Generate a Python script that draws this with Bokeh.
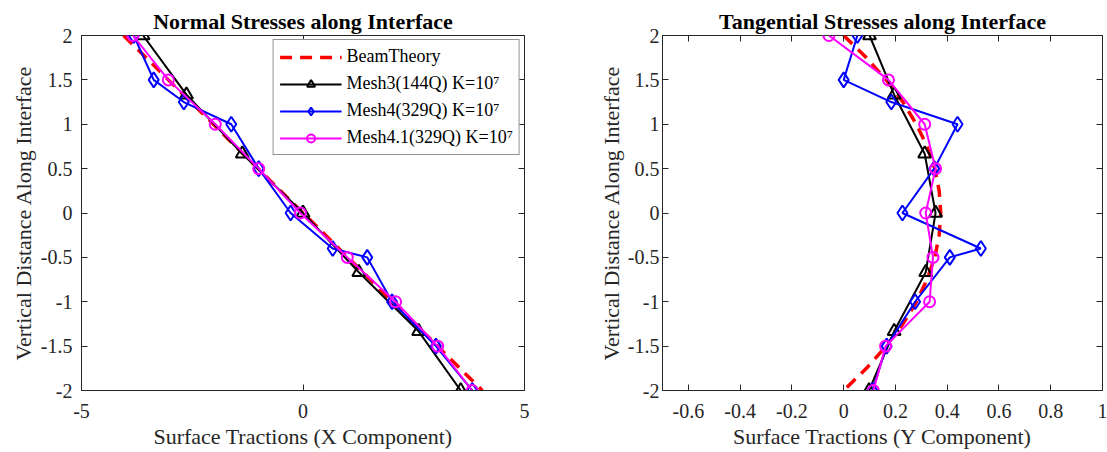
from bokeh.plotting import figure
from bokeh.models import Range1d, LinearAxis, FixedTicker, CustomJSTickFormatter
from bokeh.layouts import row
from bokeh.embed import file_html
from bokeh.resources import INLINE

# ---------------- data ----------------
beam_y = [2.0, 1.75, 1.5, 1.25, 1.0, 0.75, 0.5, 0.25, 0.0, -0.25, -0.5, -0.75,
          -1.0, -1.25, -1.5, -1.75, -2.0]
beam_normal = [-4.05, -3.54, -3.04, -2.53, -2.02, -1.52, -1.01, -0.51, 0.0, 0.51,
               1.01, 1.52, 2.02, 2.53, 3.04, 3.54, 4.05]
beam_tangential = [0.0, 0.088, 0.164, 0.229, 0.281, 0.322, 0.352, 0.369, 0.375,
                   0.369, 0.352, 0.322, 0.281, 0.229, 0.164, 0.088, 0.0]

mesh3_y = [2.0, 1.333, 0.667, 0.0, -0.667, -1.333, -2.0]
mesh3_normal = [-3.61, -2.63, -1.37, 0.0, 1.26, 2.61, 3.56]
mesh3_tangential = [0.100, 0.195, 0.313, 0.355, 0.317, 0.195, 0.098]

mesh4_y = [2.0, 1.5, 1.25, 1.0, 0.5, 0.0, -0.4, -0.5, -1.0, -1.5, -2.0]
mesh4_normal = [-3.82, -3.37, -2.69, -1.62, -1.0, -0.28, 0.67, 1.45, 2.01, 3.0, 3.82]
mesh4_tangential = [0.053, 0.0, 0.184, 0.44, 0.35, 0.227, 0.53, 0.41, 0.276, 0.166, 0.111]

mesh41_y = [2.0, 1.5, 1.0, 0.5, 0.0, -0.5, -1.0, -1.5, -2.0]
mesh41_normal = [-3.84, -3.04, -1.98, -1.0, -0.06, 1.0, 2.09, 3.04, 3.82]
mesh41_tangential = [-0.057, 0.173, 0.313, 0.355, 0.317, 0.345, 0.332, 0.162, 0.115]

normal_xticks = [-5, 0, 5]
tangential_xticks = [-0.6, -0.4, -0.2, 0, 0.2, 0.4, 0.6, 0.8, 1]
yticks = [-2, -1.5, -1, -0.5, 0, 0.5, 1, 1.5, 2]

labels = ["BeamTheory", "Mesh3(144Q) K=10\u2077", "Mesh4(329Q) K=10\u2077",
          "Mesh4.1(329Q) K=10\u2077"]

# ---------------- style ----------------
FONT = "Liberation Serif"
AX = "#262626"


def make_fig(title, xlabel, xr, xticks, width, mbl, mbr, ystand, ylabstand):
    p = figure(width=width, height=452, x_range=Range1d(*xr), y_range=Range1d(-2, 2),
               output_backend="svg", toolbar_location=None,
               min_border_left=mbl, min_border_right=mbr,
               min_border_top=35, min_border_bottom=62)
    p.title.text = title
    p.title.text_font = FONT
    p.title.text_font_size = "22px"
    p.title.text_font_style = "bold"
    p.title.text_color = "black"
    p.title.align = "center"
    p.title.standoff = 4
    p.grid.visible = False
    p.outline_line_color = AX
    p.outline_line_width = 1
    p.background_fill_color = "white"
    p.border_fill_color = "white"

    fmt = CustomJSTickFormatter(code="return tick.toString();")
    blank = CustomJSTickFormatter(code="return '';")

    for ax, ticks in ((p.xaxis[0], xticks), (p.yaxis[0], yticks)):
        ax.ticker = FixedTicker(ticks=ticks)
        ax.formatter = fmt
        ax.major_label_text_font = FONT
        ax.major_label_text_font_size = "20px"
        ax.major_label_text_color = AX
        ax.axis_label_text_font = FONT
        ax.axis_label_text_font_size = "22px"
        ax.axis_label_text_font_style = "normal"
        ax.axis_label_text_color = AX
        ax.axis_line_color = AX
        ax.major_tick_line_color = AX
        ax.major_tick_in = 6
        ax.major_tick_out = 0
        ax.minor_tick_line_color = None
    p.xaxis[0].axis_label = xlabel
    p.xaxis[0].major_label_standoff = 13
    p.xaxis[0].axis_label_standoff = 3
    p.yaxis[0].axis_label = "Vertical Distance Along Interface"
    p.yaxis[0].major_label_standoff = ystand
    p.yaxis[0].axis_label_standoff = ylabstand

    for loc, ticks in (("above", xticks), ("right", yticks)):
        a = LinearAxis(ticker=FixedTicker(ticks=ticks), formatter=blank,
                       major_label_text_font_size="0px", major_label_standoff=0,
                       axis_line_color=None, major_tick_line_color=AX,
                       major_tick_in=6, major_tick_out=0, minor_tick_line_color=None)
        p.add_layout(a, loc)
    return p


def draw(p, bx, m3, m4, m41, legend):
    kw = (lambda i: dict(legend_label=labels[i])) if legend else (lambda i: {})
    p.line(bx, beam_y, line_color="#ff0000", line_width=3.5, line_dash="12 8", **kw(0))
    p.line(m3, mesh3_y, line_color="black", line_width=2, **kw(1))
    p.scatter(m3, mesh3_y, marker="triangle", size=13, line_color="black",
              line_width=2, fill_alpha=0, **kw(1))
    p.line(m4, mesh4_y, line_color="#0000ff", line_width=2, **kw(2))
    p.scatter(m4, mesh4_y, marker="diamond", size=15, line_color="#0000ff",
              line_width=2, fill_alpha=0, **kw(2))
    p.line(m41, mesh41_y, line_color="#ff00ff", line_width=2, **kw(3))
    p.scatter(m41, mesh41_y, marker="circle", size=11, line_color="#ff00ff",
              line_width=2, fill_alpha=0, **kw(3))


p1 = make_fig("Normal Stresses along Interface", "Surface Tractions (X Component)",
              (-5, 5), normal_xticks, 560, 81, 36, 9, 2)
draw(p1, beam_normal, mesh3_normal, mesh4_normal, mesh41_normal, True)
lg = p1.legend[0]
lg.location = "top_right"
lg.margin = 4
lg.padding = 6
lg.spacing = 6
lg.border_line_color = AX
lg.border_line_width = 1
lg.background_fill_color = "white"
lg.background_fill_alpha = 1
lg.label_text_font = FONT
lg.label_text_font_size = "18px"
lg.label_text_color = "black"
lg.glyph_width = 62
lg.glyph_height = 20
lg.label_height = 20
lg.label_standoff = 5

p2 = make_fig("Tangential Stresses along Interface", "Surface Tractions (Y Component)",
              (-0.7, 1.0), tangential_xticks, 547, 102, 5, 3, 1)
draw(p2, beam_tangential, mesh3_tangential, mesh4_tangential, mesh41_tangential, False)

layout = row(p1, p2)
open("out.html", "w").write(file_html(layout, INLINE))
